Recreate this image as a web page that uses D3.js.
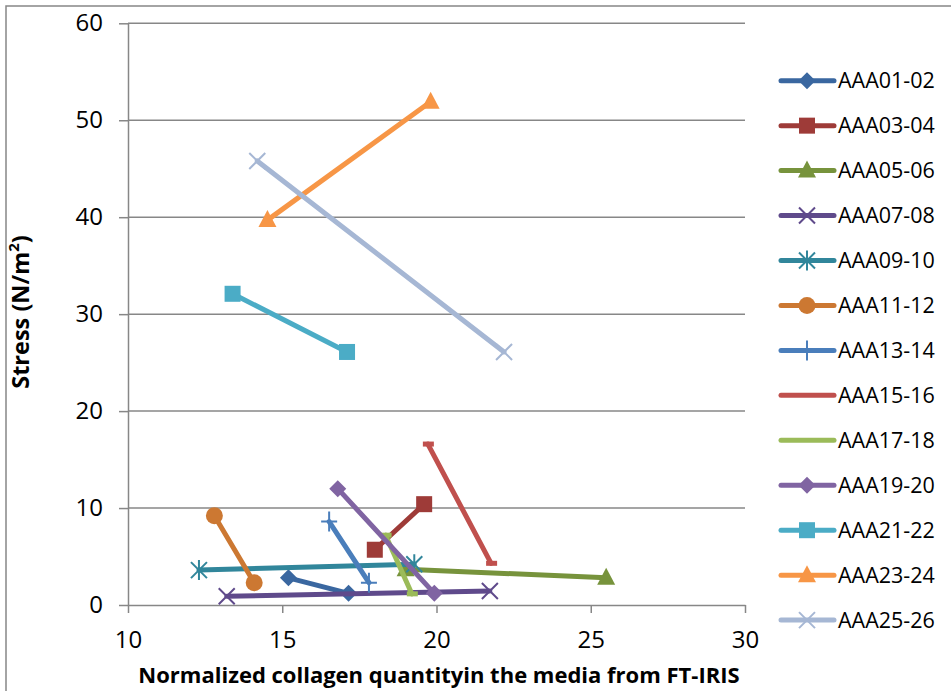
<!DOCTYPE html>
<html>
<head>
<meta charset="utf-8">
<script src="https://cdn.jsdelivr.net/npm/d3@7"></script>
<style>
  html, body { margin: 0; padding: 0; background: #fff; }
  svg { display: block; font-family: "Open Sans", "Liberation Sans", sans-serif; }
</style>
</head>
<body>
<svg id="chart" width="951" height="691"></svg>
<script>
// Series names, x (normalized collagen) and y (stress) pairs
const seriesNames = ["AAA01-02","AAA03-04","AAA05-06","AAA07-08","AAA09-10","AAA11-12","AAA13-14",
                     "AAA15-16","AAA17-18","AAA19-20","AAA21-22","AAA23-24","AAA25-26"];
const xValues = [
  [15.2, 17.15],
  [18.0, 19.6],
  [19.0, 25.5],
  [13.2, 21.73],
  [12.3, 19.28],
  [12.8, 14.09],
  [16.52, 17.81],
  [19.72, 21.77],
  [18.35, 19.2],
  [16.8, 19.93],
  [13.39, 17.1],
  [14.52, 19.81],
  [14.19, 22.19]
];
const yValues = [
  [2.8, 1.2],
  [5.7, 10.4],
  [3.7, 2.8],
  [0.9, 1.45],
  [3.6, 4.2],
  [9.2, 2.3],
  [8.6, 2.3],
  [16.6, 4.3],
  [7.2, 1.15],
  [12.0, 1.2],
  [32.1, 26.1],
  [39.7, 51.9],
  [45.8, 26.1]
];
const seriesColors = ["#3A67A0","#9E3B38","#77933C","#5F4A8B","#31869B","#CC7832","#4A7EBB",
                      "#C0504D","#9BBB59","#8064A2","#4BACC6","#F79646","#A6B7D4"];
const markerTypes = ["diamond","square","triangle","x","asterisk","circle","plus",
                     "dash","dash","diamond","square","triangle","x"];
const xTicks = [10, 15, 20, 25, 30];
const yTicks = [0, 10, 20, 30, 40, 50, 60];
const xTitle = "Normalized collagen quantityin the media from FT-IRIS";

const svg = d3.select("#chart");
const axisColor = "#878787";

// outer chart border
svg.append("rect").attr("x", 6).attr("y", 6).attr("width", 960).attr("height", 700)
  .attr("fill", "none").attr("stroke", axisColor).attr("stroke-width", 1.5);

const x = d3.scaleLinear().domain([10, 30]).range([128, 745]);
const y = d3.scaleLinear().domain([0, 60]).range([605, 23.3]);

// horizontal gridlines
svg.append("g").selectAll("line").data(yTicks.filter(t => t > 0)).join("line")
  .attr("x1", x(10)).attr("x2", x(30))
  .attr("y1", d => y(d)).attr("y2", d => y(d))
  .attr("stroke", axisColor).attr("stroke-width", 1.5);

// y axis
const yAxis = svg.append("g").attr("transform", `translate(${x(10)},0)`)
  .call(d3.axisLeft(y).tickValues(yTicks).tickSize(9).tickPadding(16).tickSizeOuter(0));
// x axis
const xAxis = svg.append("g").attr("transform", `translate(0,${y(0)})`)
  .call(d3.axisBottom(x).tickValues(xTicks).tickSize(8).tickPadding(18).tickSizeOuter(0));
[yAxis, xAxis].forEach(g => {
  g.select(".domain").attr("stroke", axisColor).attr("stroke-width", 1.5);
  g.selectAll(".tick line").attr("stroke", axisColor).attr("stroke-width", 1.5);
  g.selectAll(".tick text").attr("fill", "#000").style("font-size", "24px")
    .style("font-family", "'Open Sans', sans-serif");
});

// marker shapes
function drawMarker(g, type, color) {
  const sw = 2;
  switch (type) {
    case "diamond":
      g.append("path").attr("d", "M0,-8.5L8.5,0L0,8.5L-8.5,0Z").attr("fill", color);
      break;
    case "square":
      g.append("rect").attr("x", -8).attr("y", -8).attr("width", 16).attr("height", 16).attr("fill", color);
      break;
    case "triangle":
      g.append("path").attr("d", "M0,-10L9,7L-9,7Z").attr("fill", color);
      break;
    case "circle":
      g.append("circle").attr("r", 8.5).attr("fill", color);
      break;
    case "x":
      g.append("path").attr("d", "M-8,-8L8,8M-8,8L8,-8").attr("stroke", color).attr("stroke-width", sw);
      break;
    case "asterisk":
      g.append("path").attr("d", "M-8,-8L8,8M-8,8L8,-8M0,-10L0,10").attr("stroke", color).attr("stroke-width", sw);
      break;
    case "plus":
      g.append("path").attr("d", "M-8,0L8,0M0,-10L0,10").attr("stroke", color).attr("stroke-width", sw);
      break;
    case "dash":
      g.append("rect").attr("x", -5).attr("y", -2.5).attr("width", 11).attr("height", 5).attr("fill", color);
      break;
  }
}

const line = d3.line().x(d => x(d[0])).y(d => y(d[1]));

seriesNames.forEach((name, i) => {
  const pts = xValues[i].map((xv, j) => [xv, yValues[i][j]]);
  const g = svg.append("g").attr("class", "series");
  g.append("path").datum(pts).attr("d", line)
    .attr("fill", "none").attr("stroke", seriesColors[i]).attr("stroke-width", 5)
    .attr("stroke-linecap", "round").attr("stroke-linejoin", "round");
  pts.forEach(p => {
    const m = g.append("g").attr("transform", `translate(${x(p[0])},${y(p[1])})`);
    drawMarker(m, markerTypes[i], seriesColors[i]);
  });
});

// legend
const legend = svg.append("g");
seriesNames.forEach((name, i) => {
  const cy = 80.7 + i * 44.95;
  const row = legend.append("g").attr("transform", `translate(0,${cy})`);
  row.append("line").attr("x1", 781).attr("x2", 834).attr("y1", 0).attr("y2", 0)
    .attr("stroke", seriesColors[i]).attr("stroke-width", 5).attr("stroke-linecap", "round");
  if (markerTypes[i] !== "dash") {
    drawMarker(row.append("g").attr("transform", "translate(807,0)"), markerTypes[i], seriesColors[i]);
  }
  row.append("text").attr("x", 838).attr("y", 0).attr("dy", "0.36em")
    .style("font-size", "21.5px").attr("fill", "#000").text(name);
});

// axis titles
svg.append("text").attr("x", 439).attr("y", 683).attr("text-anchor", "middle")
  .style("font-size", "22px").style("font-weight", "bold").text(xTitle);

const yt = svg.append("text").attr("transform", "translate(29,312) rotate(-90)")
  .attr("text-anchor", "middle").style("font-size", "23.5px").style("font-weight", "bold");
yt.append("tspan").text("Stress (N/m");
yt.append("tspan").attr("baseline-shift", "super").style("font-size", "15px").text("2");
yt.append("tspan").text(")");
</script>
</body>
</html>
